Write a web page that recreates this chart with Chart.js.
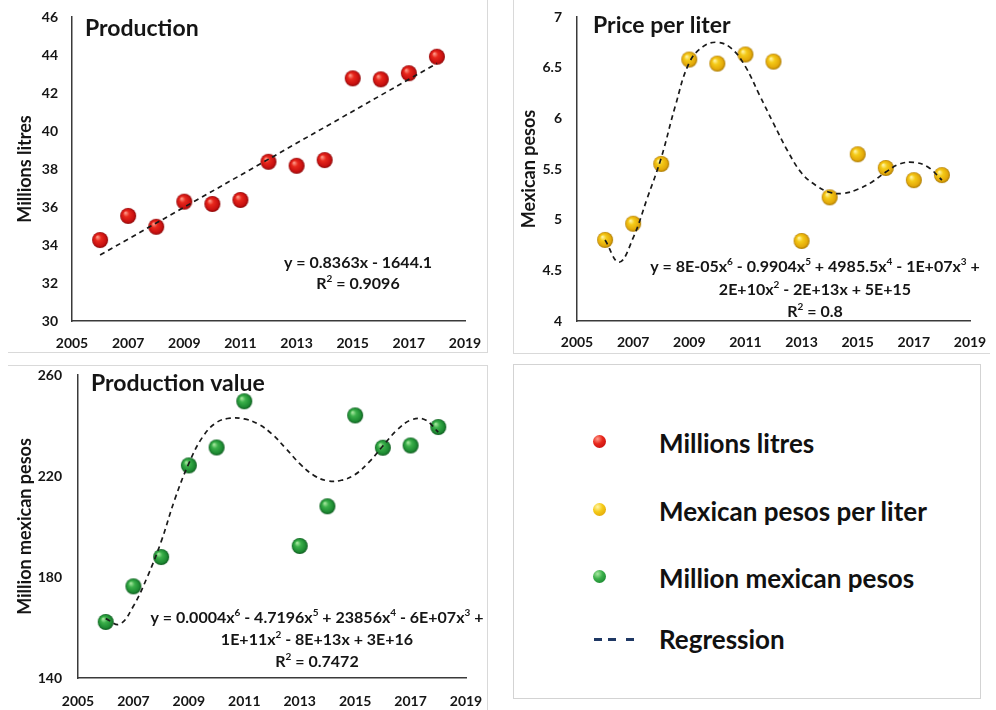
<!DOCTYPE html>
<html><head><meta charset="utf-8">
<script src="https://cdn.jsdelivr.net/npm/chart.js@4/dist/chart.umd.min.js"></script>
<style>
html,body{margin:0;padding:0;background:#fff;width:996px;height:710px;overflow:hidden;font-family:Lato,sans-serif}
canvas{position:absolute}
.ln{position:absolute;background:#d9d9d9}
#legend{position:absolute;left:513px;top:364px;width:468px;height:335px;box-sizing:border-box;border:1px solid #d3d3d3}
.lg-dot{position:absolute;width:13px;height:13px;border-radius:50%}
.lg-dash{position:absolute;height:2.5px;width:8px;background:#1f3864}
.lg-txt{position:absolute;left:145px;height:30px;line-height:30px;font:bold 26px Lato,sans-serif;color:#111;white-space:nowrap}
</style></head><body>
<div class="ln" style="left:487px;top:0;width:1px;height:352px"></div>
<div class="ln" style="left:8px;top:352px;width:480px;height:1px"></div>
<div class="ln" style="left:513px;top:0;width:1px;height:354px"></div>
<div class="ln" style="left:513px;top:353px;width:477px;height:1px"></div>
<div class="ln" style="left:8px;top:365px;width:480px;height:1px"></div>
<div class="ln" style="left:487px;top:365px;width:1px;height:345px"></div>
<canvas id="cA" width="487" height="352" style="left:0;top:0"></canvas>
<canvas id="cB" width="480" height="352" style="left:514px;top:0"></canvas>
<canvas id="cC" width="487" height="344" style="left:0;top:366px"></canvas>
<div id="legend">
  <div class="lg-dot" style="left:79px;top:70px;background:radial-gradient(circle at 35% 30%,#ff9a8a 0%,#e8281c 40%,#c81010 80%,#8a0606 100%)"></div>
  <div class="lg-txt" style="top:62px">Millions litres</div>
  <div class="lg-dot" style="left:79px;top:138px;background:radial-gradient(circle at 35% 30%,#fff5a8 0%,#f5cb18 40%,#e3a90a 80%,#a87800 100%)"></div>
  <div class="lg-txt" style="top:130px">Mexican pesos per liter</div>
  <div class="lg-dot" style="left:79px;top:205px;background:radial-gradient(circle at 35% 30%,#a8e8a0 0%,#3bb04a 40%,#1d8a32 80%,#0e5a1e 100%)"></div>
  <div class="lg-txt" style="top:197px">Million mexican pesos</div>
  <div class="lg-dash" style="left:80px;top:273px"></div>
  <div class="lg-dash" style="left:94px;top:273px"></div>
  <div class="lg-dash" style="left:112px;top:273px"></div>
  <div class="lg-txt" style="top:258px">Regression</div>
</div>
<script>
// ---------- data ----------
const xTicks = [2005, 2007, 2009, 2011, 2013, 2015, 2017, 2019];
const years = [2006, 2007, 2008, 2009, 2010, 2011, 2012, 2013, 2014, 2015, 2016, 2017, 2018];
const productionML = [34.26, 35.53, 34.96, 36.28, 36.16, 36.37, 38.38, 38.17, 38.47, 42.77, 42.72, 43.04, 43.91];
const pricePerLiter = [4.80, 4.96, 5.55, 6.58, 6.54, 6.63, 6.56, 4.79, 5.22, 5.645, 5.51, 5.39, 5.44];
const valueYears = [2006, 2007, 2008, 2009, 2010, 2011, 2013, 2014, 2015, 2016, 2017, 2018];
const productionValue = [162.2, 176.3, 187.9, 224.2, 231.3, 249.6, 192.3, 208.0, 244.0, 231.2, 232.1, 239.4];
// regression curves
const prodTrendYears = [2006, 2018];
const prodTrend = [33.47, 43.56];
const trendYears = [2006, 2006.5, 2007, 2007.5, 2008, 2008.5, 2009, 2009.5, 2010, 2010.5, 2011, 2011.5, 2012,
  2012.5, 2013, 2013.5, 2014, 2014.5, 2015, 2015.5, 2016, 2016.5, 2017, 2017.5, 2018];
const priceTrend = [4.80, 4.58, 4.82, 5.21, 5.61, 6.12, 6.55, 6.71, 6.75, 6.69, 6.51, 6.23, 5.95,
  5.68, 5.46, 5.34, 5.27, 5.26, 5.30, 5.37, 5.47, 5.55, 5.565, 5.52, 5.39];
const valueTrend = [163.5, 161.3, 168.5, 180, 194, 211, 225, 235.5, 241.2, 242.9, 242.6, 240.6, 236.6,
  230.9, 224.9, 220.3, 218.1, 218.3, 220.6, 225.5, 231.9, 238.1, 242.1, 242.4, 237.4];

const FONT = 'Lato, sans-serif';
const TXT = '#151515';

function pts(xs, ys) { return xs.map((x, i) => ({x: x, y: ys[i]})); }

function sphere(r, c) {
  const s = 2 * r + 2, cv = document.createElement('canvas');
  cv.width = s; cv.height = s;
  const g = cv.getContext('2d'), cx = s / 2, cy = s / 2;
  const gr = g.createRadialGradient(cx - r * 0.35, cy - r * 0.4, r * 0.05, cx, cy, r);
  gr.addColorStop(0, c[0]); gr.addColorStop(0.35, c[1]); gr.addColorStop(0.8, c[2]); gr.addColorStop(1, c[3]);
  g.fillStyle = gr; g.beginPath(); g.arc(cx, cy, r, 0, Math.PI * 2); g.fill();
  return cv;
}

function drawRich(ctx, text, cx, by, size) {
  const parts = []; const re = /\^(\d)/g; let last = 0, m;
  while ((m = re.exec(text))) {
    if (m.index > last) parts.push({t: text.slice(last, m.index), sup: false});
    parts.push({t: m[1], sup: true}); last = re.lastIndex;
  }
  if (last < text.length) parts.push({t: text.slice(last), sup: false});
  const nf = 'bold ' + size + 'px ' + FONT, sf = 'bold ' + Math.round(size * 0.62) + 'px ' + FONT;
  let w = 0;
  parts.forEach(p => { ctx.font = p.sup ? sf : nf; p.w = ctx.measureText(p.t).width; w += p.w; });
  let x = cx - w / 2;
  ctx.textAlign = 'left'; ctx.textBaseline = 'alphabetic'; ctx.fillStyle = TXT;
  parts.forEach(p => { ctx.font = p.sup ? sf : nf; ctx.fillText(p.t, x, p.sup ? by - size * 0.42 : by); x += p.w; });
}

const panelText = {
  id: 'panelText',
  afterDraw(chart, args, o) {
    const ctx = chart.ctx; ctx.save();
    ctx.font = 'bold ' + o.titleSize + 'px ' + FONT; ctx.fillStyle = TXT;
    ctx.textAlign = 'left'; ctx.textBaseline = 'alphabetic';
    ctx.fillText(o.title, o.tx, o.ty);
    o.lines.forEach((l, i) => drawRich(ctx, l, o.cx, o.ys[i], o.eqSize));
    ctx.restore();
  }
};

function makeChart(id, cfg) {
  const tickFont = {family: FONT, size: 14, weight: 'bold'};
  const noGrid = {display: false, drawTicks: false, tickLength: 0};
  return new Chart(document.getElementById(id), {
    type: 'scatter',
    data: {datasets: [
      {data: cfg.trend, showLine: true, tension: 0.4, pointRadius: 0, borderColor: '#1a1a1a',
       borderWidth: 1.7, borderDash: [5, 4], order: 0},
      {data: cfg.points, pointStyle: cfg.sphere, pointRadius: cfg.r, order: 1}
    ]},
    options: {
      responsive: false, animation: false, devicePixelRatio: 1,
      layout: {padding: {left: 0, top: cfg.top, right: cfg.right, bottom: 0}},
      plugins: {legend: {display: false}, tooltip: {enabled: false}, panelText: cfg.text},
      scales: {
        x: {type: 'linear', min: 2005, max: 2019,
            afterBuildTicks: s => { s.ticks = xTicks.map(v => ({value: v})); },
            ticks: {callback: v => String(v), font: tickFont, color: TXT, padding: cfg.xPad, maxRotation: 0, autoSkip: false},
            grid: noGrid, border: {display: true, color: '#3a3a3a', width: 1.5},
            afterFit: s => { s.height = cfg.xH; s.paddingLeft = 0; s.paddingRight = 0; }},
        y: {min: cfg.ymin, max: cfg.ymax,
            ticks: {stepSize: cfg.step, callback: v => String(v), font: tickFont, color: TXT, padding: cfg.yPad},
            grid: noGrid, border: {display: true, color: '#3a3a3a', width: 1.5},
            title: {display: true, text: cfg.ytitle, color: TXT, font: {family: FONT, size: 18, weight: 'bold'},
                    padding: {top: cfg.titlePad, bottom: 0}},
            afterFit: s => { s.width = cfg.yW; s.paddingTop = 0; s.paddingBottom = 0; }}
      }
    },
    plugins: [panelText]
  });
}

const redS = sphere(8, ['#ff9a8a', '#e8281c', '#c81010', '#8a0606']);
const yelS = sphere(8, ['#fff5a8', '#f5cb18', '#e3a90a', '#a87800']);
const grnS = sphere(8, ['#a8e8a0', '#3bb04a', '#1d8a32', '#0e5a1e']);

makeChart('cA', {
  points: pts(years, productionML), trend: pts(prodTrendYears, prodTrend), sphere: redS, r: 8,
  top: 17, right: 22, xH: 31, yW: 72, xPad: 14, yPad: 14, titlePad: 14,
  ymin: 30, ymax: 46, step: 2, ytitle: 'Millions litres',
  text: {title: 'Production', titleSize: 23, tx: 85, ty: 36, eqSize: 16, cx: 358,
         lines: ['y = 0.8363x - 1644.1', 'R^2 = 0.9096'], ys: [268, 289]}
});
makeChart('cB', {
  points: pts(years, pricePerLiter), trend: pts(trendYears, priceTrend), sphere: yelS, r: 8,
  top: 17, right: 24, xH: 31, yW: 63, xPad: 13, yPad: 15, titlePad: 4,
  ymin: 4, ymax: 7, step: 0.5, ytitle: 'Mexican pesos',
  text: {title: 'Price per liter', titleSize: 23, tx: 79, ty: 33, eqSize: 16, cx: 301,
         lines: ['y = 8E-05x^6 - 0.9904x^5 + 4985.5x^4 - 1E+07x^3 +', '2E+10x^2 - 2E+13x + 5E+15', 'R^2 = 0.8'],
         ys: [272, 295, 317]}
});
makeChart('cC', {
  points: pts(valueYears, productionValue), trend: pts(trendYears, valueTrend), sphere: grnS, r: 8,
  top: 8, right: 21, xH: 32, yW: 78, xPad: 15, yPad: 16, titlePad: 14,
  ymin: 140, ymax: 260, step: 40, ytitle: 'Million mexican pesos',
  text: {title: 'Production value', titleSize: 23, tx: 91, ty: 25, eqSize: 16, cx: 317,
         lines: ['y = 0.0004x^6 - 4.7196x^5 + 23856x^4 - 6E+07x^3 +', '1E+11x^2 - 8E+13x + 3E+16', 'R^2 = 0.7472'],
         ys: [257, 279, 301]}
});
</script>
</body></html>
